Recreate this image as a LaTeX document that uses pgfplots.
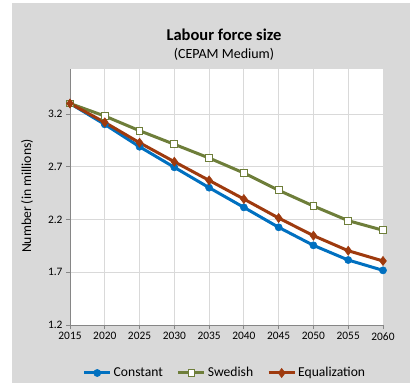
\documentclass[border=0pt]{standalone}
\usepackage{fontspec}
\setmainfont{Carlito}
\usepackage{pgfplots}
\pgfplotsset{compat=1.18}
\definecolor{bggray}{RGB}{217,217,217}
\definecolor{gridgray}{RGB}{217,217,217}
\definecolor{axisgray}{RGB}{134,134,134}
\definecolor{cblue}{RGB}{0,112,192}
\definecolor{colive}{RGB}{110,126,58}
\definecolor{cred}{RGB}{158,58,14}
\begin{document}
\begin{tikzpicture}
\path (0pt,0pt) rectangle (410pt,383pt);
\fill[bggray] (12pt,0pt) rectangle (410pt,380pt);
\node[font=\fontsize{16.5}{18}\selectfont\bfseries] at (224pt,348pt) {Labour force size};
\node[font=\fontsize{14}{16}\selectfont] at (224pt,329pt) {(CEPAM Medium)};
\node[font=\fontsize{13.7}{16}\selectfont, rotate=90] at (27pt,187pt) {Number (in millions)};
\begin{axis}[
  at={(70pt,58pt)}, anchor=south west,
  scale only axis, width=313pt, height=256pt,
  axis background/.style={fill=white},
  xmin=2015, xmax=2060, ymin=1.2, ymax=3.627,
  xtick={2015,2020,...,2060},
  ytick={1.2,1.7,2.2,2.7,3.2},
  axis lines=left,
  axis line style={-, draw=axisgray, line width=0.8pt},
  tick align=outside,
  major tick length=4pt,
  tick style={draw=axisgray, line width=0.8pt},
  grid=major,
  major grid style={draw=gridgray, line width=0.9pt},
  ticklabel style={font=\fontsize{11.4}{13}\selectfont},
  /pgf/number format/assume math mode=true,
  xticklabel style={/pgf/number format/1000 sep={}},
  yticklabel style={/pgf/number format/fixed, /pgf/number format/precision=1, /pgf/number format/fixed zerofill},
  clip=false,
  legend columns=3,
  legend style={at={(0.495,-0.1875)}, anchor=center, draw=none, fill=none,
    font=\fontsize{13.6}{15}\selectfont,
    /tikz/every even column/.append style={column sep=12pt}},
  legend image code/.code={
    \draw[#1, mark repeat=2, mark phase=2] plot coordinates {(0pt,0pt) (13pt,0pt) (26pt,0pt)};},
]
\addplot[cblue, line width=3pt, mark=*, mark size=3.6pt, mark options={fill=cblue, draw=cblue, line width=0.5pt}]
coordinates {(2015,3.30) (2020,3.102) (2025,2.890) (2030,2.695) (2035,2.502) (2040,2.315) (2045,2.126) (2050,1.955) (2055,1.816) (2060,1.718)};
\addlegendentry{Constant}
\addplot[colive, line width=3pt, mark=square*, mark size=3.4pt, mark options={fill=white, draw=colive, line width=1pt}]
coordinates {(2015,3.30) (2020,3.181) (2025,3.042) (2030,2.913) (2035,2.783) (2040,2.641) (2045,2.477) (2050,2.328) (2055,2.189) (2060,2.098)};
\addlegendentry{Swedish}
\addplot[cred, line width=3pt, mark=diamond*, mark size=4.6pt, mark options={fill=cred, draw=cred, line width=0.5pt}]
coordinates {(2015,3.30) (2020,3.121) (2025,2.928) (2030,2.748) (2035,2.571) (2040,2.394) (2045,2.214) (2050,2.047) (2055,1.904) (2060,1.807)};
\addlegendentry{Equalization}
\end{axis}
\end{tikzpicture}
\end{document}
